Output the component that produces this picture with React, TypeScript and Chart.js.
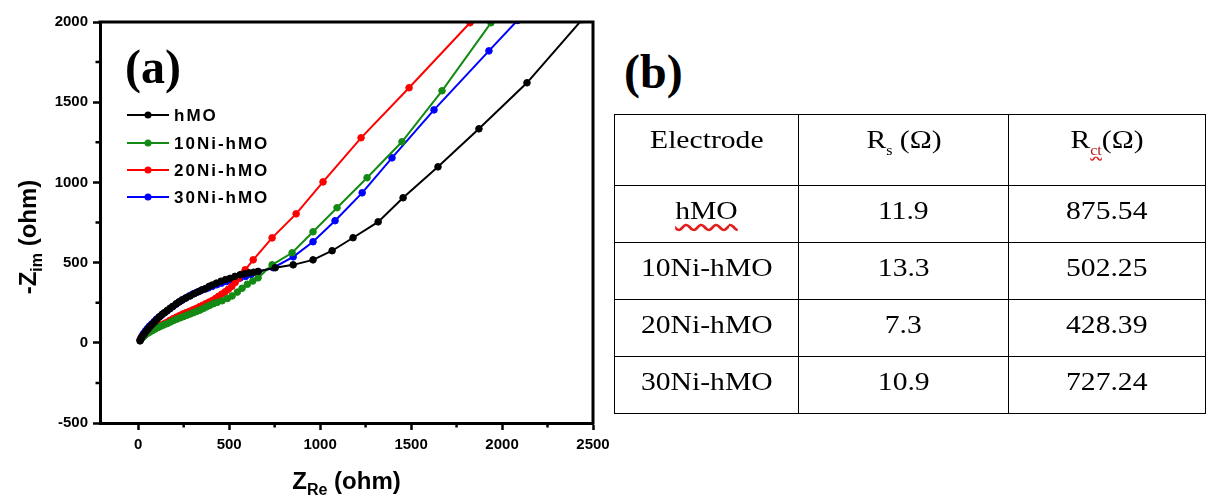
import React, { useEffect, useRef } from "react";
import { Chart, registerables } from "chart.js";
Chart.register(...registerables);

// ---------- data ----------
const seriesNames = ["hMO", "10Ni-hMO", "20Ni-hMO", "30Ni-hMO"];
const seriesColors = ["#000000", "#138a13", "#ff0000", "#0000ff"];

const hmoX = [10, 14, 20, 28, 36, 45, 55, 66, 78, 90, 104, 118, 132, 146, 160, 176, 192, 210, 226, 242, 262, 285, 308, 330, 350, 370, 390, 407, 430, 455, 480, 505, 532, 560, 585, 610, 635, 659, 753, 852, 961, 1066, 1181, 1319, 1456, 1648, 1873, 2137, 2440];
const hmoY = [12, 22, 34, 48, 60, 74, 88, 102, 116, 130, 148, 163, 178, 188, 202, 216, 228, 244, 256, 268, 280, 292, 306, 318, 330, 338, 352, 360, 372, 384, 394, 402, 414, 424, 430, 436, 440, 445, 468, 486, 517, 574, 655, 754, 904, 1097, 1334, 1621, 2015];

const ni10X = [11, 18, 26, 36, 48, 62, 78, 94, 110, 126, 142, 160, 178, 196, 214, 232, 250, 268, 286, 304, 322, 340, 358, 376, 394, 414, 434, 461, 490, 516, 545, 571, 600, 630, 659, 736, 846, 961, 1093, 1258, 1450, 1670, 1939];
const ni10Y = [15, 26, 36, 46, 56, 66, 76, 86, 96, 104, 112, 120, 130, 140, 148, 156, 164, 172, 180, 188, 196, 204, 214, 224, 234, 244, 252, 262, 276, 292, 316, 340, 365, 385, 405, 486, 561, 692, 842, 1029, 1253, 1571, 1995];

const ni20X = [11, 18, 26, 36, 48, 62, 76, 92, 108, 124, 140, 158, 175, 192, 210, 228, 246, 264, 282, 300, 318, 336, 354, 372, 390, 408, 425, 442, 460, 478, 496, 515, 533, 550, 570, 588, 632, 736, 868, 1016, 1225, 1489, 1824];
const ni20Y = [22, 32, 42, 52, 62, 72, 82, 92, 102, 110, 118, 128, 140, 150, 160, 170, 180, 188, 196, 205, 214, 224, 234, 244, 254, 264, 276, 290, 304, 318, 334, 352, 376, 400, 428, 455, 517, 654, 804, 1003, 1278, 1590, 1995];

const ni30X = [11, 16, 22, 30, 40, 50, 62, 75, 88, 100, 114, 128, 142, 158, 174, 190, 208, 225, 242, 260, 280, 300, 320, 342, 365, 385, 408, 432, 458, 485, 510, 535, 560, 590, 620, 659, 742, 852, 961, 1082, 1231, 1395, 1626, 1928, 2085];
const ni30Y = [20, 32, 44, 58, 74, 88, 104, 118, 132, 146, 160, 172, 186, 198, 212, 226, 240, 254, 266, 278, 292, 304, 314, 324, 334, 342, 352, 362, 372, 382, 390, 396, 404, 414, 426, 443, 468, 536, 630, 761, 935, 1153, 1452, 1820, 2010];

const xTicks = [0, 500, 1000, 1500, 2000, 2500];
const yTicks = [-500, 0, 500, 1000, 1500, 2000];
const xMinorTicks = [250, 750, 1250, 1750, 2250];
const yMinorTicks = [-250, 250, 750, 1250, 1750];

const tableElectrodes = ["hMO", "10Ni-hMO", "20Ni-hMO", "30Ni-hMO"];
const tableRs = ["11.9", "13.3", "7.3", "10.9"];
const tableRct = ["875.54", "502.25", "428.39", "727.24"];

const seriesX = [hmoX, ni10X, ni20X, ni30X];
const seriesY = [hmoY, ni10Y, ni20Y, ni30Y];

const SANS = "'Liberation Sans', Arial, sans-serif";
const SERIF = "'Liberation Serif', 'Times New Roman', serif";

const decorPlugin = {
  id: "decor",
  afterDraw(chart: any) {
    const ctx = chart.ctx as CanvasRenderingContext2D;
    const { left, right, top, bottom } = chart.chartArea;
    const xs = chart.scales.x;
    const ys = chart.scales.y;
    ctx.save();
    ctx.strokeStyle = "#000";
    ctx.lineWidth = 3;
    ctx.beginPath();
    ctx.moveTo(left - 1.5, top);
    ctx.lineTo(right, top);
    ctx.lineTo(right, bottom + 1.5);
    ctx.stroke();
    ctx.lineWidth = 2.5;
    ctx.beginPath();
    for (const v of xMinorTicks) {
      const px = xs.getPixelForValue(v);
      ctx.moveTo(px, bottom);
      ctx.lineTo(px, bottom + 4.5);
    }
    for (const v of yMinorTicks) {
      const py = ys.getPixelForValue(v);
      ctx.moveTo(left, py);
      ctx.lineTo(left - 4.5, py);
    }
    ctx.stroke();

    ctx.fillStyle = "#000";
    ctx.textBaseline = "alphabetic";
    {
      const big = `bold 24px ${SANS}`;
      const small = `bold 16px ${SANS}`;
      ctx.font = big;
      const w1 = ctx.measureText("Z").width;
      const w3 = ctx.measureText(" (ohm)").width;
      ctx.font = small;
      const w2 = ctx.measureText("Re").width;
      const total = w1 + w2 + w3;
      const cx = (left + right) / 2;
      let x = cx - total / 2;
      const base = 489;
      ctx.font = big;
      ctx.fillText("Z", x, base);
      x += w1;
      ctx.font = small;
      ctx.fillText("Re", x, base + 6);
      x += w2;
      ctx.font = big;
      ctx.fillText(" (ohm)", x, base);
    }
    {
      ctx.save();
      ctx.translate(36, 237);
      ctx.rotate(-Math.PI / 2);
      const big = `bold 24px ${SANS}`;
      const small = `bold 16px ${SANS}`;
      ctx.font = big;
      const w1 = ctx.measureText("-Z").width;
      const w3 = ctx.measureText(" (ohm)").width;
      ctx.font = small;
      const w2 = ctx.measureText("im").width;
      const total = w1 + w2 + w3;
      let x = -total / 2;
      ctx.font = big;
      ctx.fillText("-Z", x, 0);
      x += w1;
      ctx.font = small;
      ctx.fillText("im", x, 6);
      x += w2;
      ctx.font = big;
      ctx.fillText(" (ohm)", x, 0);
      ctx.restore();
    }
    ctx.font = `bold 48px ${SERIF}`;
    ctx.fillText("(a)", 125, 83);
    const rowsY = [115, 143, 170, 197];
    ctx.textBaseline = "middle";
    for (let i = 0; i < seriesNames.length; i++) {
      const y = rowsY[i];
      ctx.strokeStyle = seriesColors[i];
      ctx.fillStyle = seriesColors[i];
      ctx.lineWidth = 2;
      ctx.beginPath();
      ctx.moveTo(127, y);
      ctx.lineTo(169, y);
      ctx.stroke();
      ctx.beginPath();
      ctx.arc(148, y, 3.5, 0, Math.PI * 2);
      ctx.fill();
      ctx.fillStyle = "#000";
      ctx.font = `bold 17px ${SANS}`;
      (ctx as any).letterSpacing = "2px";
      ctx.fillText(seriesNames[i], 174, y + 1);
      (ctx as any).letterSpacing = "0px";
    }
    ctx.restore();
  },
};

function ChartPanel() {
  const ref = useRef<HTMLCanvasElement | null>(null);
  useEffect(() => {
    if (!ref.current) return;
    const tickFont = { family: SANS, weight: "bold" as const, size: 15 };
    const gridOpts = {
      drawOnChartArea: false,
      drawTicks: true,
      tickLength: 7,
      tickWidth: 2.5,
      tickColor: "#000",
    };
    const chart = new Chart(ref.current, {
      type: "line",
      data: {
        datasets: seriesNames.map((name, i) => ({
          label: name,
          data: seriesX[i].map((x, j) => ({ x, y: seriesY[i][j] })),
          borderColor: seriesColors[i],
          backgroundColor: seriesColors[i],
          pointBackgroundColor: seriesColors[i],
          pointBorderColor: seriesColors[i],
          pointRadius: 3.3,
          pointBorderWidth: 1,
          borderWidth: 2,
          tension: 0,
          fill: false,
        })),
      },
      options: {
        animation: false,
        responsive: false,
        devicePixelRatio: 1,
        layout: { padding: { left: 0, top: 22, right: 27, bottom: 0 } },
        plugins: { legend: { display: false }, tooltip: { enabled: false } },
        scales: {
          x: {
            type: "linear",
            min: -210,
            max: 2500,
            afterFit: (s: any) => {
              s.height = 75;
            },
            afterBuildTicks: (s: any) => {
              s.ticks = xTicks.map((v) => ({ value: v }));
            },
            ticks: {
              font: tickFont,
              color: "#000",
              padding: 6,
              maxRotation: 0,
              autoSkip: false,
              callback: (v: any) => String(v),
            },
            grid: gridOpts,
            border: { display: true, color: "#000", width: 3 },
          },
          y: {
            type: "linear",
            min: -500,
            max: 2000,
            afterFit: (s: any) => {
              s.width = 100;
            },
            afterBuildTicks: (s: any) => {
              s.ticks = yTicks.map((v) => ({ value: v }));
            },
            ticks: {
              font: tickFont,
              color: "#000",
              padding: 5,
              autoSkip: false,
              callback: (v: any) => String(v),
            },
            grid: gridOpts,
            border: { display: true, color: "#000", width: 3 },
          },
        },
      },
      plugins: [decorPlugin],
    });
    return () => chart.destroy();
  }, []);
  return (
    <canvas
      ref={ref}
      width={620}
      height={498}
      style={{ position: "absolute", left: 0, top: 0, width: 620, height: 498 }}
    />
  );
}

const cellText: React.CSSProperties = {
  display: "inline-block",
  transform: "scaleX(1.14)",
  transformOrigin: "center",
  whiteSpace: "nowrap",
};

function Table() {
  const border = "1.5px solid #000";
  const colW = [184, 210, 197];
  const td = (w: number, h: number, extra?: React.CSSProperties): React.CSSProperties => ({
    border,
    width: w,
    height: h,
    padding: 0,
    textAlign: "center",
    verticalAlign: "middle",
    boxSizing: "border-box",
    ...extra,
  });
  const headStyle = { verticalAlign: "top", paddingTop: 10 } as React.CSSProperties;
  return (
    <table
      style={{
        position: "absolute",
        left: 614,
        top: 114,
        borderCollapse: "collapse",
        fontFamily: SERIF,
        fontSize: 26,
        color: "#000",
        tableLayout: "fixed",
        width: 591,
      }}
    >
      <tbody>
        <tr>
          <td style={td(colW[0], 71, headStyle)}>
            <span style={cellText}>Electrode</span>
          </td>
          <td style={td(colW[1], 71, headStyle)}>
            <span style={cellText}>
              R<sub style={{ fontSize: 14, verticalAlign: -7 }}>s</sub> (Ω)
            </span>
          </td>
          <td style={td(colW[2], 71, headStyle)}>
            <span style={cellText}>
              R
              <sub
                style={{
                  fontSize: 14,
                  verticalAlign: -7,
                  color: "#b02020",
                  textDecoration: "underline wavy #e02020",
                }}
              >
                ct
              </sub>
              (Ω)
            </span>
          </td>
        </tr>
        {tableElectrodes.map((e, i) => (
          <tr key={e}>
            <td style={td(colW[0], 57, { paddingBottom: 6 })}>
              <span
                style={{
                  ...cellText,
                  textDecoration: i === 0 ? "underline wavy #e02020" : "none",
                  textUnderlineOffset: 4,
                }}
              >
                {e}
              </span>
            </td>
            <td style={td(colW[1], 57, { paddingBottom: 6 })}>
              <span style={cellText}>{tableRs[i]}</span>
            </td>
            <td style={td(colW[2], 57, { paddingBottom: 6 })}>
              <span style={cellText}>{tableRct[i]}</span>
            </td>
          </tr>
        ))}
      </tbody>
    </table>
  );
}

export default function App() {
  return (
    <div
      style={{
        position: "fixed",
        left: 0,
        top: 0,
        width: 1206,
        height: 498,
        background: "#fff",
        overflow: "hidden",
      }}
    >
      <ChartPanel />
      <div
        style={{
          position: "absolute",
          left: 624,
          top: 44,
          fontFamily: SERIF,
          fontWeight: "bold",
          fontSize: 48,
          lineHeight: "56px",
          color: "#000",
        }}
      >
        (b)
      </div>
      <Table />
    </div>
  );
}
